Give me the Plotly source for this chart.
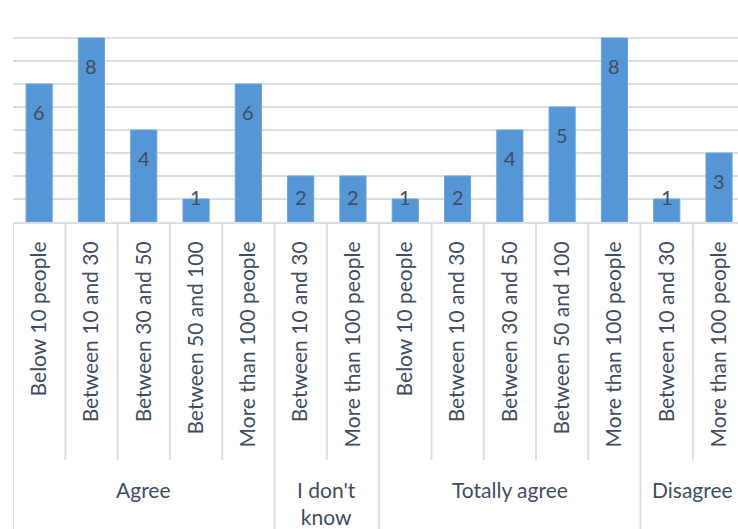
import plotly.graph_objects as go

# Survey responses grouped by opinion, split by group size
groups = ["Agree", "I don't<br>know", "Totally agree", "Disagree"]
group_sizes = [
    ["Below 10 people", "Between 10 and 30", "Between 30 and 50", "Between 50 and 100", "More than 100 people"],
    ["Between 10 and 30", "More than 100 people"],
    ["Below 10 people", "Between 10 and 30", "Between 30 and 50", "Between 50 and 100", "More than 100 people"],
    ["Between 10 and 30", "More than 100 people"],
]
counts = [
    [6, 8, 4, 1, 6],
    [2, 2],
    [1, 2, 4, 5, 8],
    [1, 3],
]

# Flatten into one run of categories
labels, values, group_of = [], [], []
for g, (names, vals) in enumerate(zip(group_sizes, counts)):
    labels += names
    values += vals
    group_of += [g] * len(names)
idx = list(range(len(labels)))

FONT = "Lato, Carlito, Calibri, sans-serif"
TEXT = "#414d60"
GRID = "#dadfe6"
BAR = "#5596d6"

W, H = 738, 529
M_L, M_R, M_T, M_B = 13, 0, 15, 307
Y_MAX = 9
CAT_W = 52.3
x_end = -0.5 + (W - M_L - M_R) / CAT_W
ppu = (H - M_T - M_B) / Y_MAX  # pixels per unit on the value axis

fig = go.Figure()
fig.add_trace(go.Bar(
    x=idx, y=values, width=0.5,
    marker=dict(color=BAR, line=dict(color="#6aa5df", width=1)),
    hoverinfo="skip",
))

# Value labels near the inside end of each bar
for i, v in zip(idx, values):
    below_top = min(28, v * ppu - 25)
    fig.add_annotation(
        x=i, y=v, xref="x", yref="y", text=str(v), showarrow=False,
        yanchor="middle", yshift=-below_top,
        font=dict(family=FONT, size=20, color=TEXT),
    )

# Separators between categories; group boundaries run to the bottom
bounds = [i - 0.5 for i in idx] + [idx[-1] + 0.5]
group_edges = {-0.5}
for k in range(1, len(idx)):
    if group_of[k] != group_of[k - 1]:
        group_edges.add(k - 0.5)
inner_bottom = -(460 - (H - M_B)) / (H - M_T - M_B)
outer_bottom = -(H - (H - M_B)) / (H - M_T - M_B)
for b in bounds:
    fig.add_shape(
        type="line", xref="x", yref="paper",
        x0=b, x1=b, y0=0, y1=outer_bottom if b in group_edges else inner_bottom,
        line=dict(color=GRID, width=2), layer="below",
    )

# Group titles centred under their categories
for g, name in enumerate(groups):
    members = [i for i in idx if group_of[i] == g]
    fig.add_annotation(
        x=(members[0] + members[-1]) / 2, y=0, xref="x", yref="paper",
        text=name, showarrow=False, yanchor="top", yshift=-253,
        font=dict(family=FONT, size=21, color=TEXT),
    )

fig.update_layout(
    width=W, height=H,
    margin=dict(l=M_L, r=M_R, t=M_T, b=M_B, autoexpand=False),
    paper_bgcolor="white", plot_bgcolor="white",
    showlegend=False, bargap=0.5,
    xaxis=dict(
        range=[-0.5, x_end], tickmode="array", tickvals=idx, ticktext=labels,
        tickangle=-90, ticks="", ticklabelstandoff=9,
        tickfont=dict(family=FONT, size=21, color=TEXT),
        showgrid=False, showline=True, linecolor=GRID, linewidth=2,
        zeroline=False, automargin=False, fixedrange=True,
    ),
    yaxis=dict(
        range=[0, Y_MAX], dtick=1, showticklabels=False, ticks="",
        showgrid=True, gridcolor=GRID, gridwidth=2,
        zeroline=False, showline=False, automargin=False, fixedrange=True,
    ),
)

fig.write_html("out.html", config={"displayModeBar": False})
